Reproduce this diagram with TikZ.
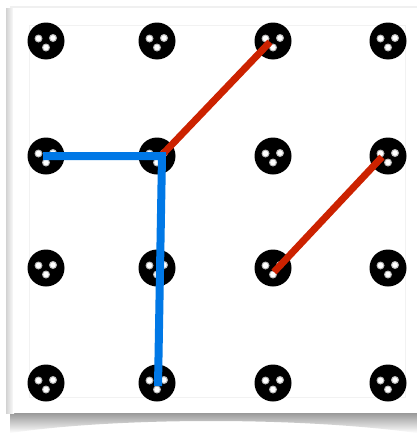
\documentclass[tikz,border=0pt]{standalone}
\usepackage{tikz}
\usetikzlibrary{positioning}

\begin{document}
\begin{tikzpicture}[x=1pt, y=-1pt,
  peg/.style={circle, fill=black, minimum size=37pt, inner sep=0pt,
    path picture={
      \foreach \dx/\dy in {-7.5/2.5, 7/3, 0/-6.5} {
        \fill[gray!55] ([shift={(\dx pt,\dy pt)}]path picture bounding box.center) circle (4pt);
        \fill[white] ([shift={(\dx pt,\dy pt)}]path picture bounding box.center) circle (2.8pt);
      }}},
  bluestring/.style={line width=8pt, draw={rgb,255:red,0;green,120;blue,230}, line join=miter},
  redstring/.style={line width=7pt, draw={rgb,255:red,204;green,34;blue,0}}]

\useasboundingbox (0,0) rectangle (417,434);
\fill[white] (0,0) rectangle (417,434);

% card and its shadow
\shade[top color=gray!80, bottom color=white] (10,413) -- (417,413) -- (417,433)
  .. controls (300,417) and (120,417) .. (10,433) -- cycle;
\shade[left color=gray!35, right color=white] (6,8) rectangle (14,413);
\draw[gray!12, line width=1.5pt] (10,7) -- (417,7);
\fill[white] (13,8) rectangle (417,413);
\draw[gray!10] (29,25) rectangle (405,397);

% pegs
\foreach \r/\y in {1/41, 2/156, 3/268, 4/383}
  \foreach \c/\x in {1/46, 2/157, 3/273, 4/388}
    \node[peg] (p-\r-\c) at (\x,\y) {};

\draw[redstring] ([xshift=4pt]p-2-2.center) -- ([xshift=-3pt,yshift=-1pt]p-1-3.center);
\draw[redstring] ([xshift=1pt,yshift=-4pt]p-3-3.center) -- ([xshift=-6pt,yshift=-1pt]p-2-4.center);
\draw[bluestring] ([xshift=-3pt]p-2-1.center) -- ([xshift=5pt]p-2-2.center)
  -- ([xshift=1pt,yshift=-3pt]p-4-2.center);
\end{tikzpicture}
\end{document}
